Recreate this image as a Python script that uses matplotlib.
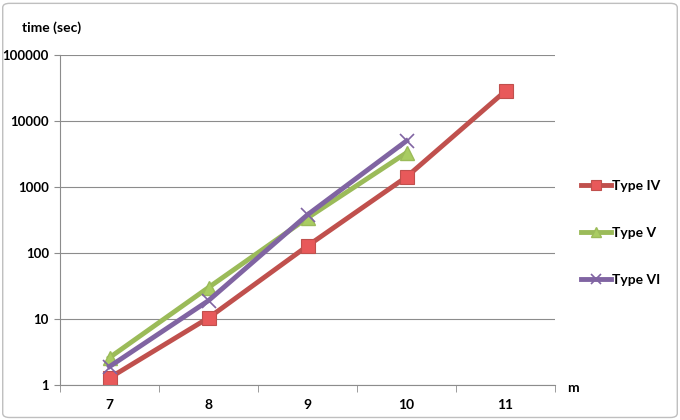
import matplotlib.pyplot as plt
import numpy as np
from matplotlib.patches import FancyBboxPatch

# data
m_vals = ["7", "8", "9", "10", "11"]
type_iv = [1.28, 10.4, 128, 1420, 28500]
type_v = [2.6, 30, 340, 3300]
type_vi = [1.9, 19, 380, 5000]
y_ticks = [1, 10, 100, 1000, 10000, 100000]

plt.rcParams['font.family'] = ['Lato', 'DejaVu Sans']

fig = plt.figure(figsize=(6.8, 4.2), dpi=100)
ax = fig.add_axes([60 / 680, 35 / 420, 495 / 680, 330 / 420])

# rounded outer frame like the spreadsheet chart box
frame = FancyBboxPatch((0.004, 0.006), 0.992, 0.986, boxstyle="round,pad=0,rounding_size=0.01",
                       transform=fig.transFigure, fill=False, edgecolor="#bfbfbf", linewidth=1)
fig.patches.append(frame)

x = np.arange(len(m_vals))

ax.plot(x, type_iv, color="#c0504d", linewidth=3.5, marker="s", markersize=10,
        markerfacecolor="#e8595a", markeredgecolor="#c0504d", markeredgewidth=0.8, label="Type IV")
ax.plot(x[:len(type_v)], type_v, color="#9bbb59", linewidth=3.5, marker="^", markersize=10,
        markerfacecolor="#a9cc62", markeredgecolor="#9bbb59", label="Type V")
ax.plot(x[:len(type_vi)], type_vi, color="#8064a2", linewidth=3.5, marker="x", markersize=10,
        markeredgecolor="#8064a2", markeredgewidth=1.2, label="Type VI")

ax.set_yscale("log")
ax.set_ylim(1, 100000)
ax.set_yticks(y_ticks)
ax.set_yticklabels([str(v) for v in y_ticks])
ax.minorticks_off()
ax.set_xlim(-0.5, len(m_vals) - 0.5)
ax.set_xticks(x)
ax.set_xticklabels(m_vals)
ax.set_xticks(np.arange(-0.5, len(m_vals)), minor=True)

ax.grid(axis="y", color="#8c8c8c", linewidth=0.8)
ax.set_axisbelow(True)
for s in ["top", "right"]:
    ax.spines[s].set_visible(False)
ax.spines["left"].set_color("#8c8c8c")
ax.spines["bottom"].set_color("#8c8c8c")
ax.tick_params(axis="x", which="major", length=0, pad=10)
ax.tick_params(axis="x", which="minor", length=5, color="#8c8c8c", direction="out")
ax.tick_params(axis="y", length=4, color="#8c8c8c", pad=4)
for lbl in ax.get_xticklabels():
    lbl.set_fontweight("bold")
    lbl.set_fontsize(10)
for lbl in ax.get_yticklabels():
    lbl.set_fontweight("bold")
    lbl.set_fontsize(9.5)

fig.text(22 / 680, 1 - 28 / 420, "time (sec)", fontsize=10, fontweight="bold", va="center", ha="left")
fig.text(573 / 680, 1 - 388 / 420, "m", fontsize=10, fontweight="bold", va="center", ha="center")

leg = ax.legend(loc="center left", bbox_to_anchor=(568 / 680, 1 - 233 / 420), bbox_transform=fig.transFigure,
                frameon=False, labelspacing=2.5, handlelength=2.2, handletextpad=0.1, markerscale=0.7,
                prop={"weight": "bold", "size": 10})

fig.savefig("out.png", dpi=100)
